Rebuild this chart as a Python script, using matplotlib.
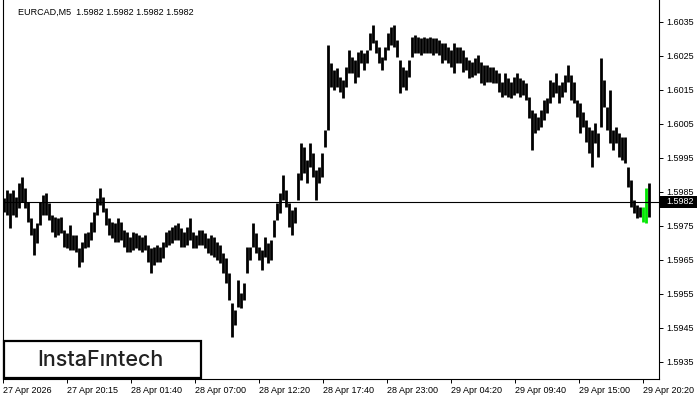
import matplotlib
matplotlib.use("Agg")
import matplotlib.pyplot as plt
from matplotlib.patches import Rectangle
import numpy as np

symbol = "EURCAD,M5"
last_price = 1.5982

highs = [
    1.59831, 1.59855, 1.59846, 1.59855, 1.59834, 1.59876, 1.59893, 1.59861, 1.59820, 1.59773,
    1.59743, 1.59758, 1.59820, 1.59840, 1.59846, 1.59817, 1.59781, 1.59776, 1.59773, 1.59776,
    1.59737, 1.59729, 1.59752, 1.59723, 1.59723, 1.59684, 1.59702, 1.59729, 1.59731, 1.59761,
    1.59790, 1.59831, 1.59861, 1.59834, 1.59802, 1.59773, 1.59761, 1.59758, 1.59773, 1.59761,
    1.59737, 1.59731, 1.59717, 1.59731, 1.59729, 1.59723, 1.59717, 1.59723, 1.59693, 1.59684,
    1.59687, 1.59693, 1.59687, 1.59702, 1.59731, 1.59737, 1.59746, 1.59752, 1.59758, 1.59743,
    1.59731, 1.59746, 1.59773, 1.59731, 1.59723, 1.59737, 1.59737, 1.59729, 1.59714, 1.59723,
    1.59717, 1.59702, 1.59693,
    1.59670, 1.59655, 1.59611, 1.59523, 1.59502, 1.59590, 1.59552, 1.59581, 1.59687, 1.59687,
    1.59758, 1.59729, 1.59687, 1.59679, 1.59717, 1.59699, 1.59708, 1.59767, 1.59817, 1.59846,
    1.59899, 1.59855, 1.59817, 1.59796, 1.59805, 1.59905, 1.59993, 1.59981, 1.59943, 1.59993,
    1.59964, 1.59914, 1.59923, 1.59964, 1.60032, 1.60281, 1.60229, 1.60208, 1.60214, 1.60187,
    1.60179, 1.60217, 1.60267, 1.60246, 1.60237, 1.60261, 1.60267, 1.60258, 1.60267, 1.60317,
    1.60340, 1.60296, 1.60276, 1.60246, 1.60276, 1.60317, 1.60334, 1.60340, 1.60296, 1.60237,
    1.60217, 1.60208, 1.60237, 1.60305, 1.60311, 1.60305, 1.60302, 1.60305, 1.60302, 1.60305,
    1.60302,
    1.60302, 1.60296, 1.60287, 1.60287, 1.60276, 1.60267, 1.60287, 1.60276, 1.60276, 1.60267,
    1.60246, 1.60237, 1.60231, 1.60243, 1.60252, 1.60231, 1.60223, 1.60223, 1.60217, 1.60217,
    1.60208, 1.60199, 1.60173, 1.60199, 1.60184, 1.60173, 1.60187, 1.60199, 1.60184, 1.60179,
    1.60170, 1.60129, 1.60090, 1.60081, 1.60070, 1.60090, 1.60120, 1.60126, 1.60179, 1.60173,
    1.60199, 1.60164, 1.60173, 1.60193, 1.60223, 1.60193, 1.60173, 1.60120, 1.60111, 1.60084,
    1.60061, 1.60040, 1.60032, 1.60052, 1.60023, 1.60243, 1.60179, 1.60099, 1.60149, 1.60032,
    1.60040, 1.60023, 1.60011, 1.60011, 1.59923, 1.59884, 1.59826, 1.59811, 1.59805, 1.59805,
    1.59861, 1.59876,
]

lows = [
    1.59790, 1.59781, 1.59743, 1.59781, 1.59776, 1.59802, 1.59820, 1.59802, 1.59761, 1.59723,
    1.59664, 1.59699, 1.59752, 1.59781, 1.59781, 1.59767, 1.59731, 1.59717, 1.59723, 1.59729,
    1.59687, 1.59684, 1.59679, 1.59679, 1.59673, 1.59629, 1.59643, 1.59684, 1.59687, 1.59708,
    1.59731, 1.59781, 1.59811, 1.59790, 1.59752, 1.59723, 1.59714, 1.59702, 1.59702, 1.59708,
    1.59687, 1.59673, 1.59673, 1.59679, 1.59684, 1.59679, 1.59673, 1.59679, 1.59643, 1.59611,
    1.59634, 1.59643, 1.59643, 1.59655, 1.59687, 1.59693, 1.59699, 1.59708, 1.59708, 1.59687,
    1.59687, 1.59693, 1.59708, 1.59684, 1.59684, 1.59693, 1.59693, 1.59684, 1.59670, 1.59664,
    1.59658, 1.59649, 1.59640,
    1.59611, 1.59581, 1.59531, 1.59423, 1.59458, 1.59511, 1.59508, 1.59531, 1.59611, 1.59649,
    1.59687, 1.59670, 1.59649, 1.59620, 1.59658, 1.59640, 1.59649, 1.59717, 1.59767, 1.59787,
    1.59826, 1.59805, 1.59746, 1.59723, 1.59758, 1.59826, 1.59884, 1.59905, 1.59876, 1.59923,
    1.59893, 1.59826, 1.59876, 1.59893, 1.59981, 1.60032, 1.60158, 1.60149, 1.60158, 1.60143,
    1.60126, 1.60158, 1.60199, 1.60199, 1.60170, 1.60187, 1.60229, 1.60208, 1.60229, 1.60267,
    1.60287, 1.60258, 1.60229, 1.60208, 1.60237, 1.60267, 1.60281, 1.60276, 1.60246, 1.60140,
    1.60158, 1.60149, 1.60187, 1.60246, 1.60258, 1.60258, 1.60252, 1.60258, 1.60258, 1.60258,
    1.60252,
    1.60258, 1.60252, 1.60229, 1.60237, 1.60229, 1.60217, 1.60199, 1.60229, 1.60229, 1.60202,
    1.60208, 1.60184, 1.60187, 1.60193, 1.60199, 1.60170, 1.60164, 1.60173, 1.60173, 1.60170,
    1.60170, 1.60143, 1.60129, 1.60134, 1.60129, 1.60126, 1.60134, 1.60140, 1.60129, 1.60134,
    1.60120, 1.60067, 1.59973, 1.60023, 1.60032, 1.60040, 1.60061, 1.60081, 1.60111, 1.60129,
    1.60140, 1.60111, 1.60129, 1.60143, 1.60173, 1.60120, 1.60111, 1.60070, 1.60023, 1.60040,
    1.59996, 1.59964, 1.59923, 1.59993, 1.59952, 1.60040, 1.60099, 1.60032, 1.59993, 1.59973,
    1.59993, 1.59952, 1.59943, 1.59934, 1.59864, 1.59805, 1.59787, 1.59773, 1.59776, 1.59761,
    1.59758, 1.59776,
]

time_labels = ["27 Apr 2026", "27 Apr 20:15", "28 Apr 01:40", "28 Apr 07:00",
               "28 Apr 12:20", "28 Apr 17:40", "28 Apr 23:00", "29 Apr 04:20",
               "29 Apr 09:40", "29 Apr 15:00", "29 Apr 20:20"]
price_ticks = [1.5935, 1.5945, 1.5955, 1.5965, 1.5975, 1.5985,
               1.5995, 1.6005, 1.6015, 1.6025, 1.6035]

W, H = 700, 400
FONT = "Liberation Sans"
fig = plt.figure(figsize=(W / 100, H / 100), dpi=100)
ax = fig.add_axes([3 / W, 21 / H, 656 / W, 379 / H])

n = len(highs)
step = 3
x = np.arange(n) * step
colors = ["black"] * n
for k in (n - 3, n - 2):
    colors[k] = "#00e600"
ax.vlines(x, lows, highs, colors=colors, linewidth=2.0)

ax.axhline(last_price, color="black", linewidth=0.8)

ax.set_xlim(-1, 655)
ax.set_ylim(1.592991, 1.604138)

ax.spines["top"].set_visible(False)
for s in ("left", "right", "bottom"):
    ax.spines[s].set_linewidth(0.8)

ax.yaxis.tick_right()
ax.set_yticks(price_ticks)
ax.set_yticklabels([f"{p:.4f}" for p in price_ticks], fontsize=6.5, family=FONT)
ax.tick_params(axis="y", direction="out", length=3, width=0.7, pad=2)

ax.set_xticks([64 * k - 1 for k in range(len(time_labels))])
ax.set_xticklabels(time_labels, fontsize=6.5, family=FONT, ha="left")
ax.tick_params(axis="x", direction="out", length=3, width=0.7, pad=2)

# current price label
ytr = ax.get_yaxis_transform()
ax.add_patch(Rectangle((1.0, last_price - 0.00017), 38 / 656, 0.00034,
                       transform=ytr, facecolor="black", edgecolor="none",
                       clip_on=False, zorder=5))
ax.text(1.0 + 7 / 656, last_price, f"{last_price:.4f}", transform=ytr,
        color="white", fontsize=6.5, family=FONT, va="center", ha="left",
        zorder=6, clip_on=False)

# title
fig.text(18 / W, 1 - 12 / H,
         f"{symbol}  {last_price:.4f} {last_price:.4f} {last_price:.4f} {last_price:.4f}",
         fontsize=6.5, family=FONT, va="center", ha="left")

# logo
fig.patches.append(Rectangle((4 / W, 22 / H), 197 / W, 37 / H, transform=fig.transFigure,
                             facecolor="white", edgecolor="black", linewidth=1.6,
                             zorder=10, figure=fig))
fig.text(100 / W, 1 - 360 / H, "InstaF\u0131ntech", fontsize=15.5, family="Inter",
         weight="medium", color="#222222", ha="center", va="center", zorder=11)

fig.savefig("out.png", dpi=100)
